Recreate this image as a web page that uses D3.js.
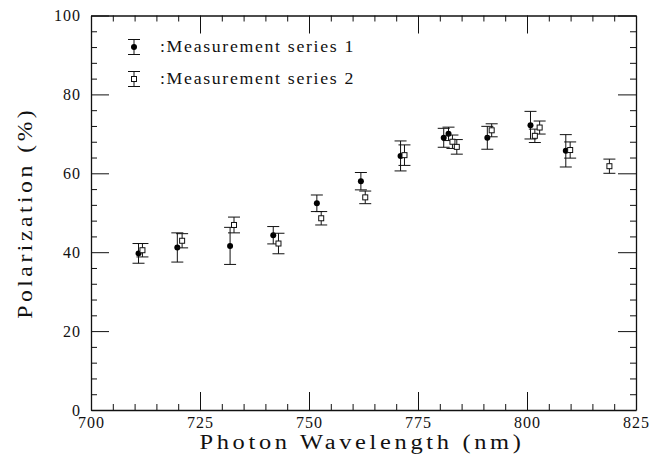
<!DOCTYPE html>
<html>
<head>
<meta charset="utf-8">
<script src="https://cdn.jsdelivr.net/npm/d3@7"></script>
<style>
  html, body { margin: 0; padding: 0; background: #fff; }
  svg { display: block; }
  text { font-family: "Liberation Serif", "DejaVu Serif", serif; fill: #111; }
</style>
</head>
<body>
<svg id="chart" width="658" height="459"></svg>
<script>
// ---- data ----
const series1Wavelength = [710.9, 719.8, 731.9, 741.8, 751.8, 761.9, 771.0, 780.9, 782.0, 790.9, 800.8, 808.9];
const series1Polarization = [39.7, 41.2, 41.6, 44.3, 52.4, 58.0, 64.4, 69.0, 70.0, 69.0, 72.2, 65.7];
const series1Error = [2.5, 3.7, 4.7, 2.2, 2.1, 2.2, 3.8, 2.4, 1.7, 2.9, 3.5, 4.1];

const series2Wavelength = [711.8, 720.9, 732.8, 743.0, 752.8, 762.9, 771.9, 782.9, 783.9, 791.9, 801.8, 802.9, 809.9, 818.9];
const series2Polarization = [40.5, 42.9, 46.9, 42.2, 48.6, 53.9, 64.6, 68.0, 66.7, 70.9, 69.5, 71.6, 65.9, 61.8];
const series2Error = [1.7, 1.8, 2.0, 2.6, 1.7, 1.6, 2.6, 1.7, 1.85, 1.65, 1.7, 1.65, 2.05, 1.8];

const seriesNames = [":Measurement series 1", ":Measurement series 2"];
const xTicks = [700, 725, 750, 775, 800, 825];
const yTicks = [0, 20, 40, 60, 80, 100];
const xTitle = "Photon Wavelength (nm)";
const yTitle = "Polarization (%)";

// ---- layout ----
const svg = d3.select("#chart");
const L = 91, R = 636, T = 15.5, B = 410;
const x = d3.scaleLinear().domain([700, 825]).range([L, R]);
const y = d3.scaleLinear().domain([0, 100]).range([B, T]);

const xMinor = d3.range(700, 826, 5).filter(v => !xTicks.includes(v));
const yMinor = d3.range(0, 101, 4).filter(v => !yTicks.includes(v));

const MAJ = 18, MIN = 6;

function styleAxis(g) {
  g.select(".domain").attr("stroke", "#111").attr("stroke-width", 1.3);
  g.selectAll(".tick line").attr("stroke", "#111").attr("stroke-width", 1);
  g.selectAll(".tick text").attr("font-size", 16).attr("font-family", "Liberation Serif")
    .attr("letter-spacing", "1px");
}

// bottom
svg.append("g").attr("transform", `translate(0,${B})`)
  .call(d3.axisBottom(x).tickValues(xTicks).tickFormat(d3.format("d")).tickSizeInner(-MAJ).tickSizeOuter(0).tickPadding(7))
  .call(styleAxis);
svg.append("g").attr("transform", `translate(0,${B})`)
  .call(d3.axisBottom(x).tickValues(xMinor).tickFormat("").tickSizeInner(-MIN).tickSizeOuter(0))
  .call(styleAxis).select(".domain").remove();
// top
svg.append("g").attr("transform", `translate(0,${T})`)
  .call(d3.axisTop(x).tickValues(xTicks).tickFormat("").tickSizeInner(-MAJ).tickSizeOuter(0))
  .call(styleAxis);
svg.append("g").attr("transform", `translate(0,${T})`)
  .call(d3.axisTop(x).tickValues(xMinor).tickFormat("").tickSizeInner(-MIN).tickSizeOuter(0))
  .call(styleAxis).select(".domain").remove();
// left
svg.append("g").attr("transform", `translate(${L},0)`)
  .call(d3.axisLeft(y).tickValues(yTicks).tickFormat(d3.format("d")).tickSizeInner(-MAJ).tickSizeOuter(0).tickPadding(10))
  .call(styleAxis);
svg.append("g").attr("transform", `translate(${L},0)`)
  .call(d3.axisLeft(y).tickValues(yMinor).tickFormat("").tickSizeInner(-MIN).tickSizeOuter(0))
  .call(styleAxis).select(".domain").remove();
// right
svg.append("g").attr("transform", `translate(${R},0)`)
  .call(d3.axisRight(y).tickValues(yTicks).tickFormat("").tickSizeInner(-MAJ).tickSizeOuter(0))
  .call(styleAxis);
svg.append("g").attr("transform", `translate(${R},0)`)
  .call(d3.axisRight(y).tickValues(yMinor).tickFormat("").tickSizeInner(-MIN).tickSizeOuter(0))
  .call(styleAxis).select(".domain").remove();

// axis titles
svg.append("text").attr("x", 362).attr("y", 449).attr("text-anchor", "middle")
  .attr("font-size", 20).attr("letter-spacing", "3px")
  .attr("textLength", 325).attr("lengthAdjust", "spacingAndGlyphs").text(xTitle);
svg.append("text").attr("transform", `translate(32,${(T + B) / 2}) rotate(-90)`).attr("text-anchor", "middle")
  .attr("font-size", 20).attr("letter-spacing", "3px")
  .attr("textLength", 212).attr("lengthAdjust", "spacingAndGlyphs").text(yTitle);

// ---- data marks ----
const CAP = 6;
function drawErrorBars(g, xs, ys, es) {
  const d = xs.map((v, i) => ({ x: v, y: ys[i], e: es[i] }));
  const eb = g.selectAll("g.eb").data(d).enter().append("g").attr("class", "eb")
    .attr("stroke", "#111").attr("stroke-width", 1);
  eb.append("line").attr("x1", p => x(p.x)).attr("x2", p => x(p.x))
    .attr("y1", p => y(p.y + p.e)).attr("y2", p => y(p.y - p.e));
  eb.append("line").attr("x1", p => x(p.x) - CAP).attr("x2", p => x(p.x) + CAP)
    .attr("y1", p => y(p.y + p.e)).attr("y2", p => y(p.y + p.e));
  eb.append("line").attr("x1", p => x(p.x) - CAP).attr("x2", p => x(p.x) + CAP)
    .attr("y1", p => y(p.y - p.e)).attr("y2", p => y(p.y - p.e));
  return d;
}

const g1 = svg.append("g");
const d1 = drawErrorBars(g1, series1Wavelength, series1Polarization, series1Error);
g1.selectAll("circle").data(d1).enter().append("circle")
  .attr("cx", p => x(p.x)).attr("cy", p => y(p.y)).attr("r", 3).attr("fill", "#000");

const g2 = svg.append("g");
const d2 = drawErrorBars(g2, series2Wavelength, series2Polarization, series2Error);
g2.selectAll("rect").data(d2).enter().append("rect")
  .attr("x", p => x(p.x) - 2.5).attr("y", p => y(p.y) - 2.5).attr("width", 5).attr("height", 5)
  .attr("fill", "#fff").attr("stroke", "#111").attr("stroke-width", 1);

// ---- legend ----
const legX = 134, legY = [47, 79], legErr = 7.5;
const leg = svg.append("g");
seriesNames.forEach((name, i) => {
  const cy = legY[i];
  const lg = leg.append("g").attr("stroke", "#111").attr("stroke-width", 1);
  lg.append("line").attr("x1", legX).attr("x2", legX).attr("y1", cy - legErr).attr("y2", cy + legErr);
  lg.append("line").attr("x1", legX - CAP).attr("x2", legX + CAP).attr("y1", cy - legErr).attr("y2", cy - legErr);
  lg.append("line").attr("x1", legX - CAP).attr("x2", legX + CAP).attr("y1", cy + legErr).attr("y2", cy + legErr);
  if (i === 0) {
    leg.append("circle").attr("cx", legX).attr("cy", cy).attr("r", 3).attr("fill", "#000");
  } else {
    leg.append("rect").attr("x", legX - 2.5).attr("y", cy - 2.5).attr("width", 5).attr("height", 5)
      .attr("fill", "#fff").attr("stroke", "#111");
  }
  leg.append("text").attr("x", 160).attr("y", cy + 5).attr("font-size", 16).attr("letter-spacing", "1.5px")
    .attr("textLength", 195).attr("lengthAdjust", "spacingAndGlyphs").text(name);
});
</script>
</body>
</html>
